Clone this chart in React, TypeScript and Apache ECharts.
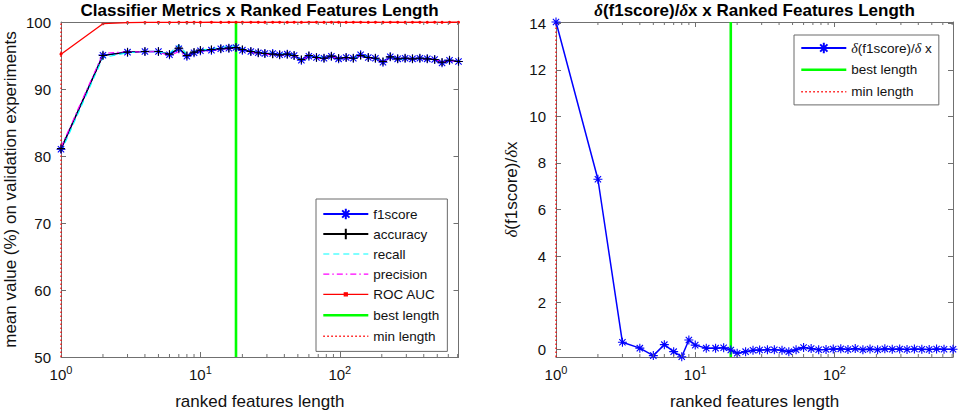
import React, { useEffect, useRef } from "react";
import * as echarts from "echarts";

// ---------- data ----------
const xLengths = [1, 2, 3, 4, 5, 6, 7, 8, 9, 10, 12, 14, 16, 18, 20, 23, 26, 29, 33, 37, 42, 47, 53, 60, 68, 77, 87, 98, 111, 125, 141, 160, 180, 204, 230, 260, 294, 332, 375, 424, 479, 541, 612, 710];
const f1score = [81.0, 95.05, 95.5, 95.6, 95.6, 95.1, 96.0, 94.9, 95.4, 95.7, 95.8, 96.0, 96.1, 96.2, 95.8, 95.6, 95.4, 95.3, 95.3, 95.1, 95.2, 95.0, 94.3, 94.9, 94.7, 94.6, 94.9, 94.5, 94.7, 94.6, 95.1, 94.7, 94.6, 94.0, 94.8, 94.5, 94.6, 94.5, 94.6, 94.5, 94.4, 93.9, 94.3, 94.1];
const accuracy = [81.1, 95.0, 95.5, 95.6, 95.6, 95.2, 96.1, 95.0, 95.5, 95.8, 95.9, 96.0, 96.1, 96.2, 95.9, 95.6, 95.4, 95.3, 95.2, 95.1, 95.2, 95.0, 94.4, 95.0, 94.7, 94.6, 94.9, 94.6, 94.7, 94.6, 95.0, 94.7, 94.6, 94.1, 94.8, 94.5, 94.6, 94.5, 94.6, 94.5, 94.4, 94.0, 94.3, 94.1];
const recall = [80.6, 94.7, 95.4, 95.6, 95.5, 95.3, 96.6, 95.2, 95.6, 95.8, 96.0, 96.2, 96.4, 96.4, 96.0, 95.7, 95.5, 95.3, 95.4, 95.2, 95.3, 95.1, 94.4, 94.9, 94.8, 94.7, 95.0, 94.4, 94.8, 94.5, 95.2, 94.8, 94.6, 94.1, 94.9, 94.4, 94.5, 94.6, 94.5, 94.6, 94.3, 93.8, 94.4, 94.0];
const precision = [81.3, 95.3, 95.6, 95.5, 95.6, 94.9, 95.6, 94.8, 95.3, 95.6, 95.7, 95.9, 96.0, 96.0, 95.7, 95.5, 95.3, 95.2, 95.1, 95.0, 95.1, 94.9, 94.4, 94.8, 94.6, 94.5, 94.8, 94.6, 94.6, 94.7, 94.9, 94.6, 94.6, 94.1, 94.7, 94.6, 94.5, 94.4, 94.6, 94.4, 94.5, 94.0, 94.2, 94.2];
const rocAuc = [95.2, 99.75, 99.92, 99.93, 99.94, 99.93, 99.95, 99.94, 99.95, 99.95, 99.96, 99.95, 99.96, 99.96, 99.95, 99.96, 99.96, 99.95, 99.96, 99.96, 99.95, 99.96, 99.95, 99.96, 99.96, 99.95, 99.96, 99.96, 99.95, 99.96, 99.96, 99.95, 99.96, 99.95, 99.96, 99.96, 99.95, 99.96, 99.96, 99.95, 99.96, 99.95, 99.96, 99.96];
const f1Derivative = [14.05, 7.3, 0.3, 0.05, -0.27, 0.2, -0.1, -0.32, 0.4, 0.18, 0.05, 0.05, 0.07, -0.03, -0.17, -0.1, -0.04, -0.03, -0.02, -0.02, -0.04, -0.1, -0.02, 0.08, 0.03, -0.02, -0.01, 0.01, 0.02, -0.01, 0.03, -0.02, 0.01, -0.02, 0.02, 0.0, 0.01, -0.01, 0.01, 0.0, -0.01, 0.01, 0.0, 0.0];
const bestLength = 18;
const minLength = 1;
const xRange = [1, 710];
const leftYRange = [50, 100];
const rightYRange = [-0.33, 14.05];
const minorTickValues = [2, 3, 4, 5, 6, 7, 8, 9, 20, 30, 40, 50, 60, 70, 80, 90, 200, 300, 400, 500, 600, 700];
const derivName = "δ(f1score)/δ x";

// ---------- styles ----------
const FONT = '"Liberation Sans", Arial, Helvetica, sans-serif';
const SERIF = '"Liberation Serif", "DejaVu Serif", serif';
const AXIS = "#707070";
const TEXT = "#111111";
const BLUE = "#0000ff";
const CYAN = "#00ffff";
const MAGENTA = "#ff00ff";
const RED = "#ff0000";
const GREEN = "#00ff00";
const ASTERISK = "path://M5,0L5,10M0,5L10,5M1.5,1.5L8.5,8.5M1.5,8.5L8.5,1.5";
const PLUS = "path://M5,0L5,10M0,5L10,5";
const LINE_ICON = "path://M0,0L0,0M45,13L45,13M0,6.5L45,6.5";
const DOT_LINE_ICON = "path://M0,0L0,0M45,13L45,13M0,6.5L45,6.5M21,5L24,5L24,8L21,8Z";
const DASH = [6, 4];
const DASHDOT = [6, 3, 1.5, 3];
const DOTS = [1.5, 2.5];

const zip = (xs: number[], ys: number[]) => xs.map((x, i) => [x, ys[i]]);

function isPow10(v: number) {
  const l = Math.log10(v);
  return Math.abs(l - Math.round(l)) < 1e-6;
}

const xAxisBase = (gridIndex: number, position: "bottom" | "top") => ({
  gridIndex,
  type: "log",
  logBase: 10,
  min: xRange[0],
  max: xRange[1],
  splitNumber: 3,
  position,
  axisLine: { show: true, onZero: false, lineStyle: { color: AXIS, width: 1 } },
  axisTick: { show: true, inside: true, length: 5, lineStyle: { color: AXIS, width: 1 } },
  splitLine: { show: false },
  minorTick: { show: false },
  axisLabel:
    position === "bottom"
      ? {
          show: true,
          margin: 7,
          color: TEXT,
          formatter: (v: number) => (isPow10(v) ? `{b|10}{s|${Math.round(Math.log10(v))}}` : ""),
          rich: {
            b: { fontSize: 15, fontFamily: FONT, color: TEXT, padding: [5, 0, 0, 0], lineHeight: 16 },
            s: { fontSize: 11, fontFamily: FONT, color: TEXT, lineHeight: 12, verticalAlign: "top" },
          },
        }
      : { show: false },
  ...(position === "bottom"
    ? {
        name: "ranked features length",
        nameLocation: "middle",
        nameGap: 36,
        nameTextStyle: { fontSize: 17, fontFamily: FONT, color: TEXT },
      }
    : {}),
});

const intLabel = (v: number) => (Math.abs(v - Math.round(v)) < 1e-9 ? String(Math.round(v)) : "");

const yAxisBase = (gridIndex: number, position: "left" | "right", range: number[], extra: any) => ({
  gridIndex,
  type: "value",
  min: range[0],
  max: range[1],
  position,
  axisLine: { show: true, onZero: false, lineStyle: { color: AXIS, width: 1 } },
  axisTick: { show: true, inside: true, length: 5, lineStyle: { color: AXIS, width: 1 } },
  splitLine: { show: false },
  axisLabel:
    position === "left"
      ? { show: true, margin: 10, fontSize: 15, fontFamily: FONT, color: TEXT, formatter: intLabel }
      : { show: false },
  ...extra,
});

const minorTickSeries = (axisIdx: number, yRange: number[]) => ({
  type: "custom",
  coordinateSystem: "cartesian2d",
  xAxisIndex: axisIdx,
  yAxisIndex: axisIdx,
  silent: true,
  clip: false,
  z: 10,
  data: minorTickValues.map((v) => [v, yRange[0]]),
  renderItem: (_params: any, api: any) => {
    const v = api.value(0);
    const b = api.coord([v, yRange[0]]);
    const t = api.coord([v, yRange[1]]);
    const st = { stroke: AXIS, lineWidth: 1 };
    return {
      type: "group",
      children: [
        { type: "line", shape: { x1: b[0], y1: b[1], x2: b[0], y2: b[1] - 3 }, style: st },
        { type: "line", shape: { x1: t[0], y1: t[1], x2: t[0], y2: t[1] + 3 }, style: st },
      ],
    };
  },
});

const vLine = (name: string, axisIdx: number, x: number, yRange: number[], color: string, width: number, type: any) => ({
  name,
  type: "line",
  xAxisIndex: axisIdx,
  yAxisIndex: axisIdx,
  data: [
    [x, yRange[0]],
    [x, yRange[1]],
  ],
  symbol: "none",
  clip: false,
  lineStyle: { color, width, type },
  itemStyle: { color },
});

const lineLegendItem = (name: string, color: string, width: number, dash: any, icon = LINE_ICON) => ({
  name,
  icon,
  itemStyle: {
    color: icon === LINE_ICON ? "transparent" : color,
    borderColor: color,
    borderWidth: width,
    borderType: dash,
  },
});

export default function App() {
  const ref = useRef<HTMLDivElement>(null);
  useEffect(() => {
    if (!ref.current) return;
    const chart = echarts.init(ref.current, undefined, { renderer: "svg" });
    const legendCommon = {
      orient: "vertical",
      selectedMode: false,
      backgroundColor: "#ffffff",
      borderColor: "#6a6a6a",
      borderWidth: 1,
      borderRadius: 0,
      itemWidth: 45,
      itemHeight: 13,
      textStyle: { fontSize: 13.5, fontFamily: FONT, color: TEXT },
    };
    const option: any = {
      animation: false,
      backgroundColor: "#ffffff",
      grid: [
        { left: 61, top: 22, width: 397.5, height: 335, containLabel: false, outerBoundsMode: "none" },
        { left: 556, top: 22, width: 397, height: 335, containLabel: false, outerBoundsMode: "none" },
      ],
      graphic: [
        {
          type: "text",
          x: 259.5,
          y: 10.5,
          style: {
            text: "Classifier Metrics x Ranked Features Length",
            align: "center",
            verticalAlign: "middle",
            fontSize: 17,
            fontWeight: "bold",
            fontFamily: FONT,
            fill: "#000",
          },
        },
        {
          type: "text",
          x: 754.5,
          y: 10.5,
          style: {
            text: "{i|δ}(f1score)/{i|δ}x x Ranked Features Length",
            align: "center",
            verticalAlign: "middle",
            fontSize: 17,
            fontWeight: "bold",
            fontFamily: FONT,
            fill: "#000",
            rich: { i: { fontSize: 17, fontStyle: "italic", fontWeight: "bold", fontFamily: SERIF, fill: "#000" } },
          },
        },
      ],
      legend: [
        {
          ...legendCommon,
          data: [
            { name: "f1score" },
            { name: "accuracy" },
            lineLegendItem("recall", CYAN, 1.1, DASH),
            lineLegendItem("precision", MAGENTA, 1.1, DASHDOT),
            lineLegendItem("ROC AUC", RED, 1.3, "solid", DOT_LINE_ICON),
            lineLegendItem("best length", GREEN, 2.6, "solid"),
            lineLegendItem("min length", RED, 1.3, DOTS),
          ],
          left: 316,
          top: 199,
          itemGap: 6,
          padding: [8, 8, 8, 6],
        },
        {
          ...legendCommon,
          data: [
            { name: derivName },
            lineLegendItem("best length", GREEN, 2.6, "solid"),
            lineLegendItem("min length", RED, 1.3, DOTS),
          ],
          left: 794,
          top: 35,
          itemGap: 7,
          padding: [6, 7, 6, 6],
          formatter: (name: string) => name.replace(/δ/g, "{i|δ}"),
          textStyle: {
            fontSize: 13.5,
            fontFamily: FONT,
            color: TEXT,
            rich: { i: { fontSize: 14, fontStyle: "italic", fontFamily: SERIF, color: TEXT } },
          },
        },
      ],
      xAxis: [xAxisBase(0, "bottom"), xAxisBase(1, "bottom"), xAxisBase(0, "top"), xAxisBase(1, "top")],
      yAxis: [
        yAxisBase(0, "left", leftYRange, {
          interval: 10,
          name: "mean value (%) on validation experiments",
          nameLocation: "middle",
          nameGap: 42,
          nameTextStyle: { fontSize: 17, fontFamily: FONT, color: TEXT },
        }),
        yAxisBase(1, "left", rightYRange, {
          splitNumber: 7,
          name: "{i|δ}(f1score)/{i|δ}x",
          nameLocation: "middle",
          nameGap: 36,
          nameTextStyle: {
            fontSize: 17,
            fontFamily: FONT,
            color: TEXT,
            rich: { i: { fontSize: 17, fontStyle: "italic", fontFamily: SERIF, color: TEXT } },
          },
        }),
        yAxisBase(0, "right", leftYRange, { interval: 10 }),
        yAxisBase(1, "right", rightYRange, { splitNumber: 7 }),
      ],
      series: [
        {
          name: "f1score",
          type: "line",
          xAxisIndex: 0,
          yAxisIndex: 0,
          data: zip(xLengths, f1score),
          symbol: ASTERISK,
          symbolSize: 9,
          clip: false,
          itemStyle: { color: BLUE, borderColor: BLUE, borderWidth: 1.1 },
          lineStyle: { color: BLUE, width: 1.5 },
        },
        {
          name: "accuracy",
          type: "line",
          xAxisIndex: 0,
          yAxisIndex: 0,
          data: zip(xLengths, accuracy),
          symbol: PLUS,
          symbolSize: 8,
          clip: false,
          itemStyle: { color: "#000000", borderColor: "#000000", borderWidth: 1.1 },
          lineStyle: { color: "#000000", width: 1.2 },
        },
        {
          name: "recall",
          type: "line",
          xAxisIndex: 0,
          yAxisIndex: 0,
          data: zip(xLengths, recall),
          symbol: "none",
          clip: false,
          itemStyle: { color: CYAN },
          lineStyle: { color: CYAN, width: 1.1, type: DASH },
        },
        {
          name: "precision",
          type: "line",
          xAxisIndex: 0,
          yAxisIndex: 0,
          data: zip(xLengths, precision),
          symbol: "none",
          clip: false,
          itemStyle: { color: MAGENTA },
          lineStyle: { color: MAGENTA, width: 1.1, type: DASHDOT },
        },
        {
          name: "ROC AUC",
          type: "line",
          xAxisIndex: 0,
          yAxisIndex: 0,
          data: zip(xLengths, rocAuc),
          symbol: "circle",
          symbolSize: 3,
          clip: false,
          itemStyle: { color: RED },
          lineStyle: { color: RED, width: 1.3 },
        },
        vLine("best length", 0, bestLength, leftYRange, GREEN, 2.6, "solid"),
        vLine("min length", 0, minLength, leftYRange, RED, 1.3, DOTS),
        {
          name: derivName,
          type: "line",
          xAxisIndex: 1,
          yAxisIndex: 1,
          data: zip(xLengths, f1Derivative),
          symbol: ASTERISK,
          symbolSize: 9,
          clip: false,
          itemStyle: { color: BLUE, borderColor: BLUE, borderWidth: 1.1 },
          lineStyle: { color: BLUE, width: 1.5 },
        },
        vLine("best length", 1, bestLength, rightYRange, GREEN, 2.6, "solid"),
        vLine("min length", 1, minLength, rightYRange, RED, 1.3, DOTS),
        minorTickSeries(0, leftYRange),
        minorTickSeries(1, rightYRange),
      ],
    };
    chart.setOption(option);
    return () => chart.dispose();
  }, []);
  return (
    <div
      ref={ref}
      style={{ position: "fixed", left: 0, top: 0, width: 960, height: 415, background: "#ffffff" }}
    />
  );
}
